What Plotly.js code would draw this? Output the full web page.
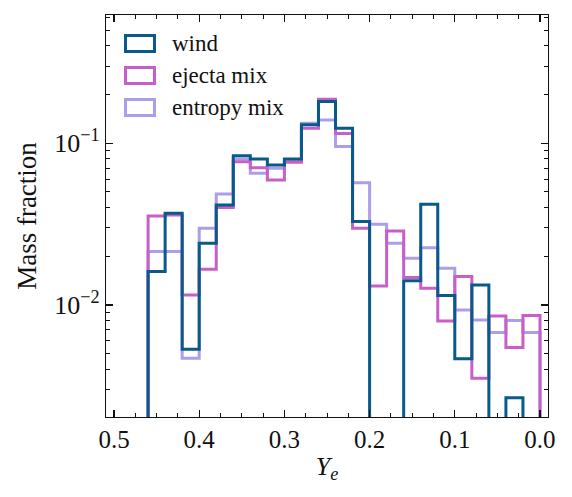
<!DOCTYPE html>
<html>
<head>
<meta charset="utf-8">
<script src="https://cdn.plot.ly/plotly-3.0.1.min.js"></script>
<style>
  html, body { margin: 0; padding: 0; background: #fff; }
  #chart { width: 572px; height: 497px; }
</style>
</head>
<body>
<div id="chart"></div>
<script>
// Bin edges in Y_e (high to low, width 0.02)
const binEdges = [0.46, 0.44, 0.42, 0.40, 0.38, 0.36, 0.34, 0.32, 0.30, 0.28, 0.26, 0.24,
                  0.22, 0.20, 0.18, 0.16, 0.14, 0.12, 0.10, 0.08, 0.06, 0.04, 0.02, 0.00];

// Mass fraction per bin (same order as the edges above)
const windMass = [0.0161, 0.0369, 0.00532, 0.0241, 0.0415, 0.0838, 0.0800, 0.0734, 0.0800, 0.130, 0.181, 0.124,
                  0.0328, 0, 0, 0.0141, 0.0420, 0.01143, 0.00464, 0.0133, 0, 0.00267, 0];
const ejectaMixMass = [0.0355, 0.0360, 0.01153, 0.01664, 0.0400, 0.0769, 0.0706, 0.0593, 0.0762, 0.124, 0.187, 0.115,
                       0.0298, 0.0131, 0.0287, 0.01476, 0.01267, 0.00796, 0.01497, 0.00352, 0.00855, 0.00545, 0.0086];
const entropyMixMass = [0.0214, 0.0214, 0.00468, 0.0298, 0.0485, 0.0800, 0.0652, 0.0700, 0.0770, 0.133, 0.139, 0.0953,
                        0.0570, 0.0316, 0.0241, 0.01946, 0.0226, 0.01686, 0.0093, 0.00807, 0.00675, 0.0080, 0.00675];

const seriesNames = ['wind', 'ejecta mix', 'entropy mix'];
const seriesColors = ['#075a89', '#c85fc8', '#ad9ee9'];

const xTickVals = [0.5, 0.4, 0.3, 0.2, 0.1, 0.0];
const xTickText = ['0.5', '0.4', '0.3', '0.2', '0.1', '0.0'];
const yTickVals = [0.01, 0.1];
const yTickText = ['10<sup>\u22122</sup>', '10<sup>\u22121</sup>'];

// Axis extents
const xRange = [0.5094, -0.0094];
const yLogRange = [-2.693, -0.207];
// empty bins drop well below the visible range and get clipped at the frame
const yDrop = 1e-4;

// Step outline as drawn by a 'step' histogram: up from the first edge,
// across every bin, down at the last edge.
function stepPath(edges, vals) {
  const xs = [], ys = [];
  const v = vals.map(d => (d > 0 ? d : yDrop));
  xs.push(edges[0]); ys.push(yDrop);
  for (let i = 0; i < v.length; i++) {
    xs.push(edges[i]); ys.push(v[i]);
    xs.push(edges[i + 1]); ys.push(v[i]);
  }
  xs.push(edges[edges.length - 1]); ys.push(yDrop);
  return { x: xs, y: ys };
}

const allSeries = [windMass, ejectaMixMass, entropyMixMass];
const traces = [];
// lighter series first so the wind outline sits on top
for (let k = allSeries.length - 1; k >= 0; k--) {
  const p = stepPath(binEdges, allSeries[k]);
  traces.push({
    type: 'scatter', mode: 'lines', x: p.x, y: p.y,
    name: seriesNames[k], showlegend: false, hoverinfo: 'skip',
    line: { color: seriesColors[k], width: 3, shape: 'linear' }
  });
}

// Plot area in pixels
const plotL = 106, plotR = 548, plotT = 15, plotB = 417.5;
const px = x => (x - plotL) / (plotR - plotL);
const py = y => (plotB - y) / (plotB - plotT);

const fontFam = "'Liberation Serif', 'DejaVu Serif', serif";

// Legend: outlined patches with labels
const shapes = [], annotations = [];
const legendRowY = [43.5, 75.5, 107.5];
for (let k = 0; k < seriesNames.length; k++) {
  const cy = legendRowY[k];
  shapes.push({
    type: 'rect', xref: 'paper', yref: 'paper',
    x0: px(125.5), x1: px(154.5), y0: py(cy + 8), y1: py(cy - 8),
    line: { color: seriesColors[k], width: 3 }, fillcolor: 'rgba(0,0,0,0)'
  });
  annotations.push({
    xref: 'paper', yref: 'paper', x: px(170), y: py(cy),
    xanchor: 'left', yanchor: 'middle', showarrow: false,
    text: seriesNames[k],
    font: { family: fontFam, size: 23, color: '#111' }
  });
}

const layout = {
  width: 572, height: 497,
  margin: { l: plotL, r: 572 - plotR, t: plotT, b: 497 - plotB },
  paper_bgcolor: '#fff', plot_bgcolor: '#fff',
  showlegend: false,
  font: { family: fontFam, color: '#111', size: 24 },
  xaxis: {
    range: xRange, showgrid: false, zeroline: false,
    showline: true, linecolor: '#111', linewidth: 1.3, mirror: 'allticks',
    ticks: 'inside', ticklen: 7, tickwidth: 1.2, tickcolor: '#111',
    tickmode: 'array', tickvals: xTickVals, ticktext: xTickText,
    tickfont: { family: fontFam, size: 25, color: '#111' },
    minor: { ticks: 'inside', ticklen: 4, tickwidth: 1, tickcolor: '#111', dtick: 0.025, tick0: 0, showgrid: false },
    title: { text: '<i>Y<sub>e</sub></i>', font: { family: fontFam, size: 26, color: '#111' }, standoff: 4 }
  },
  yaxis: {
    type: 'log', range: yLogRange, showgrid: false, zeroline: false,
    showline: true, linecolor: '#111', linewidth: 1.3, mirror: 'allticks',
    ticks: 'inside', ticklen: 7, tickwidth: 1.2, tickcolor: '#111',
    tickmode: 'array', tickvals: yTickVals, ticktext: yTickText,
    tickfont: { family: fontFam, size: 26, color: '#111' },
    minor: {
      ticks: 'inside', ticklen: 4, tickwidth: 1, tickcolor: '#111', showgrid: false,
      tickmode: 'array',
      tickvals: [0.003, 0.004, 0.005, 0.006, 0.007, 0.008, 0.009,
                 0.02, 0.03, 0.04, 0.05, 0.06, 0.07, 0.08, 0.09,
                 0.2, 0.3, 0.4, 0.5, 0.6]
    },
    title: { text: 'Mass fraction', font: { family: fontFam, size: 27, color: '#111' }, standoff: 9 }
  },
  shapes: shapes,
  annotations: annotations
};

Plotly.newPlot('chart', traces, layout, { staticPlot: true, displayModeBar: false });
</script>
</body>
</html>
